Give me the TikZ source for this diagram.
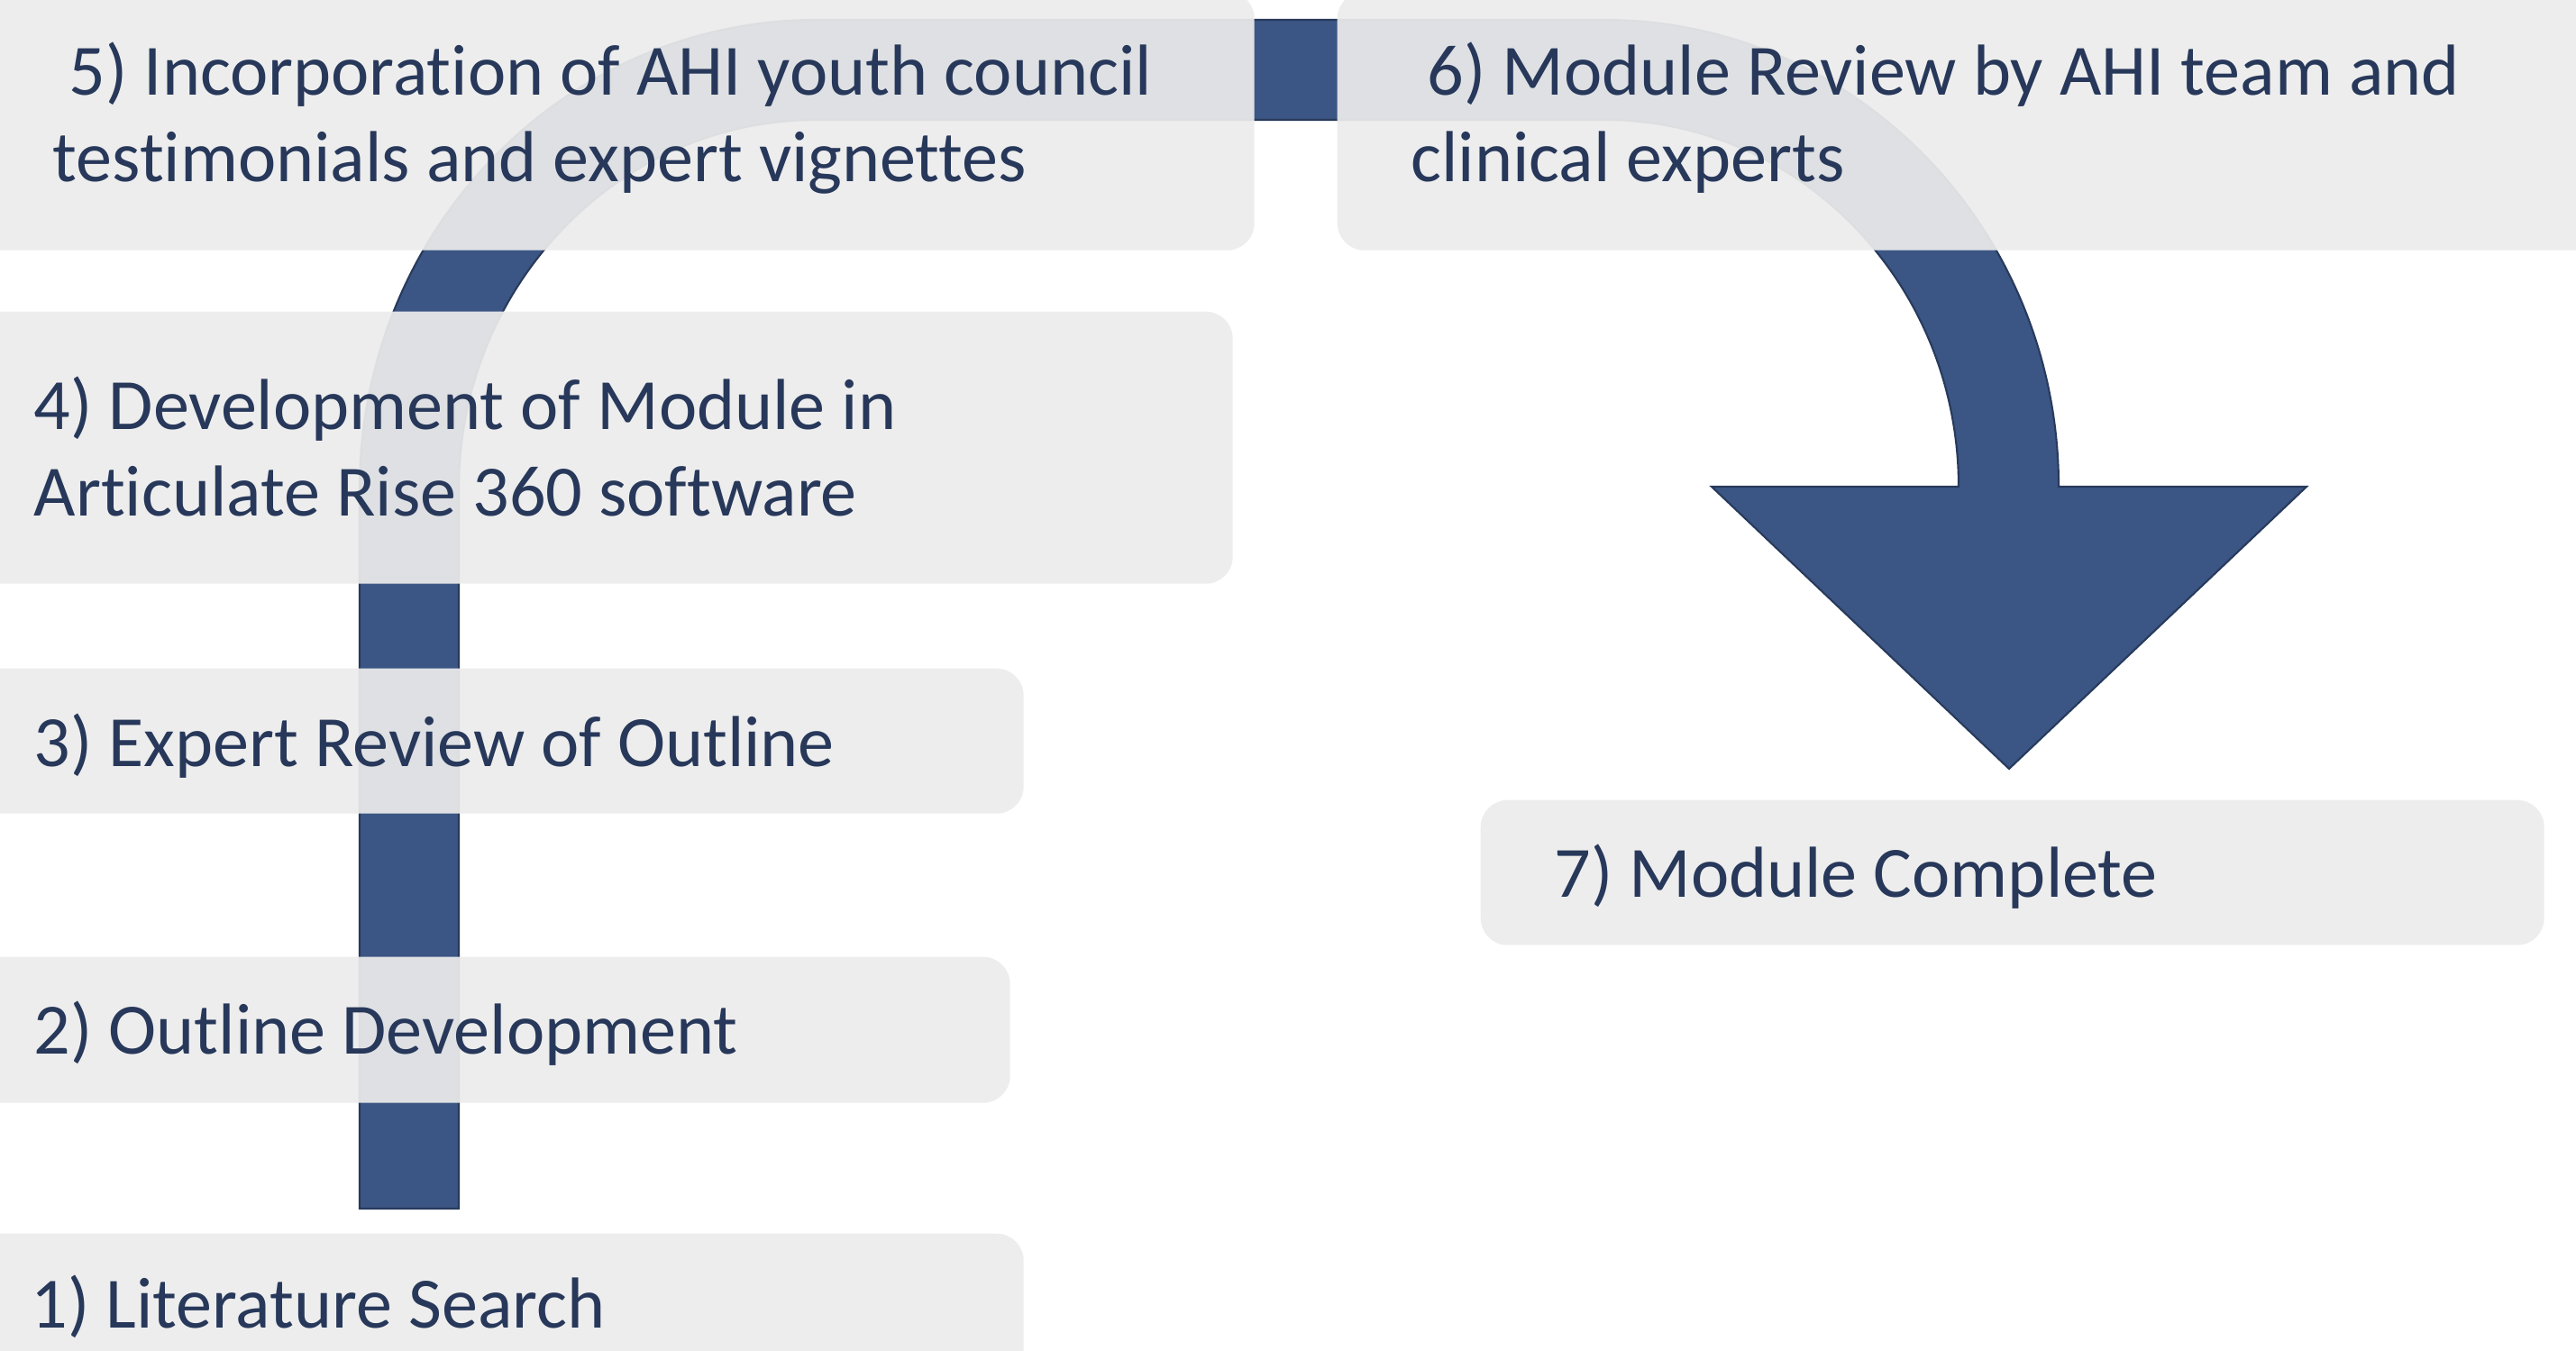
\documentclass[tikz,border=0pt]{standalone}
\usepackage{fontspec}
\setmainfont[Ligatures=NoCommon]{Carlito}
\definecolor{bandblue}{RGB}{59,86,132}
\definecolor{bandline}{RGB}{40,58,92}
\definecolor{boxgray}{RGB}{236,236,236}
\definecolor{textnavy}{RGB}{39,56,90}
\tikzset{stepbox/.style={rectangle, rounded corners=0.3cm, fill=boxgray, fill opacity=0.92, inner sep=0pt, anchor=north west},
  steptext/.style={text=textnavy, inner sep=0pt, anchor=base west, align=left, font=\fontsize{22.8}{27.2}\selectfont}}

\begin{document}
\begin{tikzpicture}
  \useasboundingbox (0,0) rectangle (28.58,-14.98);
  \clip (0,0) rectangle (28.58,-14.98);
  % the bent band with its head
  \draw[fill=bandblue, draw=bandline, line width=0.6pt] (3.99,-13.41) -- (3.99,-5.43)
    arc[start angle=180, end angle=90, x radius=5.07, y radius=5.21] -- (17.80,-0.22)
    arc[start angle=90, end angle=0, x radius=5.04, y radius=5.18]
    -- (25.59,-5.40) -- (22.29,-8.53) -- (18.99,-5.40) -- (21.73,-5.40)
    arc[start angle=0, end angle=90, x radius=3.93, y radius=4.07] -- (9.06,-1.33)
    arc[start angle=90, end angle=180, x radius=3.97, y radius=4.10] -- (5.09,-13.41) -- cycle;
  % boxes
  \foreach \n/\x/\y/\w/\h in {1/-0.5/-13.68/11.85/2.0, 2/-0.5/-10.61/11.70/1.62, 3/-0.5/-7.41/11.85/1.61,
      4/-0.5/-3.45/14.17/3.02, 5/-0.5/0.1/14.41/2.87, 6/14.83/0.1/14.67/2.87, 7/16.42/-8.87/11.80/1.61}
    \node[stepbox, minimum width=\w cm, minimum height=\h cm] (box\n) at (\x,\y) {};
  % texts (base is the last line)
  \foreach \n/\x/\y/\t in {1/0.34/-14.73/{1) Literature Search}, 2/0.37/-11.69/{2) Outline Development},
      3/0.37/-8.50/{3) Expert Review of Outline}, 7/17.24/-9.95/{7) Module Complete}}
    \node[steptext] (txt\n) at (\x,\y) {\t};
  \node[steptext] (txt4) at (0.37,-5.72) {4) Development of Module in\\Articulate Rise 360 software};
  \node[steptext] (txt5) at (0.58,-2.01) {\ 5) Incorporation of AHI youth council\\testimonials and expert vignettes};
  \node[steptext] (txt6) at (15.65,-2.01) {\ 6) Module Review by AHI team and\\clinical experts};
\end{tikzpicture}
\end{document}
